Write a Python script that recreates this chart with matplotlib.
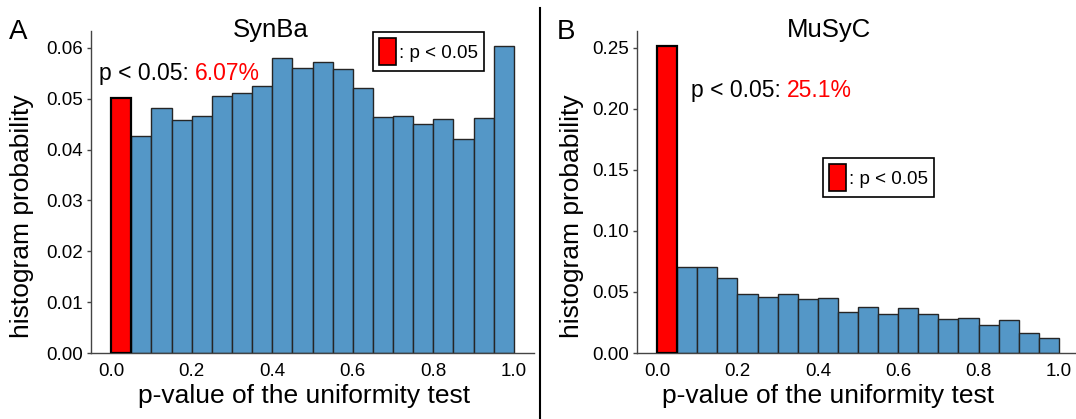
import matplotlib
matplotlib.use('Agg')
import matplotlib.pyplot as plt
from matplotlib.patches import Patch
import numpy as np

plt.rcParams['font.family'] = ['Liberation Sans', 'DejaVu Sans']

# histogram probabilities per 0.05-wide bin of p-values
bin_edges = np.linspace(0, 1, 21)
synba = [0.0501, 0.0426, 0.0481, 0.0458, 0.0466, 0.0506, 0.0511, 0.0525, 0.0580, 0.0561,
         0.0572, 0.0558, 0.0522, 0.0464, 0.0466, 0.0451, 0.0460, 0.0421, 0.0462, 0.0603]
musyc = [0.2511, 0.0708, 0.0703, 0.0618, 0.0482, 0.0460, 0.0482, 0.0441, 0.0452, 0.0338,
         0.0373, 0.0316, 0.0368, 0.0316, 0.0275, 0.0286, 0.0226, 0.0270, 0.0166, 0.0120]
titles = ['SynBa', 'MuSyC']
panel_tags = ['A', 'B']
pct_text = ['6.07%', '25.1%']
xticks = [0.0, 0.2, 0.4, 0.6, 0.8, 1.0]
yticks_a = [0.00, 0.01, 0.02, 0.03, 0.04, 0.05, 0.06]
yticks_b = [0.00, 0.05, 0.10, 0.15, 0.20, 0.25]

blue = '#5497c7'

fig = plt.figure(figsize=(10.76, 4.19), dpi=100)
W, H = 1076, 419


def px(x, y):
    # pixel position (from top-left) -> figure fraction
    return x / W, 1 - y / H


ax_a = fig.add_axes([91 / W, 1 - 353 / H, 443 / W, 322 / H])
ax_b = fig.add_axes([637 / W, 1 - 353 / H, 442 / W, 322 / H])


def draw(ax, vals, yticks):
    left = bin_edges[:-1]
    colors = ['red'] + [blue] * (len(vals) - 1)
    bars = ax.bar(left, vals, width=0.05, align='edge', color=colors,
                  edgecolor='#262626', linewidth=1.0)
    bars[0].set_edgecolor('black')
    bars[0].set_linewidth(1.6)
    bars[0].set_zorder(3)
    for s in ['top', 'right']:
        ax.spines[s].set_visible(False)
    for s in ['left', 'bottom']:
        ax.spines[s].set_color('#444444')
        ax.spines[s].set_linewidth(1.0)
    ax.set_xticks(xticks)
    ax.set_xticklabels(['{:.1f}'.format(t) for t in xticks])
    ax.set_yticks(yticks)
    ax.set_yticklabels(['{:.2f}'.format(t) for t in yticks])
    ax.tick_params(axis='x', length=0, pad=7, labelsize=13.5)
    ax.tick_params(axis='y', length=3, width=1, color='#444444', pad=3, labelsize=13.5)


draw(ax_a, synba, yticks_a)
draw(ax_b, musyc, yticks_b)

# titles, panel tags, axis labels
fig.text(*px(271, 37), titles[0], fontsize=18.5, ha='center', va='baseline')
fig.text(*px(829, 37), titles[1], fontsize=18.5, ha='center', va='baseline')
fig.text(*px(9, 39), panel_tags[0], fontsize=20, ha='left', va='baseline')
fig.text(*px(557, 39), panel_tags[1], fontsize=20, ha='left', va='baseline')

for xc in [304, 828]:
    fig.text(*px(xc, 403), 'p-value of the uniformity test', fontsize=19,
             ha='center', va='baseline')
for xc in [22, 572]:
    fig.text(*px(xc, 216), 'histogram probability', fontsize=19, rotation=90,
             ha='center', va='center')

# p < 0.05 annotations (black prefix + red percentage)
fig.canvas.draw()
for (x0, y0), pct in zip([(99, 80), (691, 97)], pct_text):
    t1 = fig.text(*px(x0, y0), 'p < 0.05: ', fontsize=16.5, ha='left', va='baseline')
    bb = t1.get_window_extent(renderer=fig.canvas.get_renderer())
    fig.text(bb.x1 / W, 1 - y0 / H, pct, fontsize=16.5, color='red',
             ha='left', va='baseline')

# legends
handle = Patch(facecolor='red', edgecolor='black', linewidth=1.2)
for ax, (lx, ly) in zip([ax_a, ax_b], [(373, 32), (823, 158)]):
    leg = ax.legend([handle], [': p < 0.05'], loc='upper left',
                    bbox_to_anchor=px(lx, ly), bbox_transform=fig.transFigure,
                    fontsize=13.5, handlelength=0.9, handleheight=1.9,
                    handletextpad=0.2, borderpad=0.3, borderaxespad=0,
                    fancybox=False, framealpha=1)
    leg.get_frame().set_edgecolor('black')
    leg.get_frame().set_linewidth(1.2)

# divider between panels
fig.add_artist(plt.Line2D([540 / W, 540 / W], [0, 1 - 8 / H], color='black',
                          linewidth=1.5, transform=fig.transFigure))

fig.savefig('out.png', dpi=100)
